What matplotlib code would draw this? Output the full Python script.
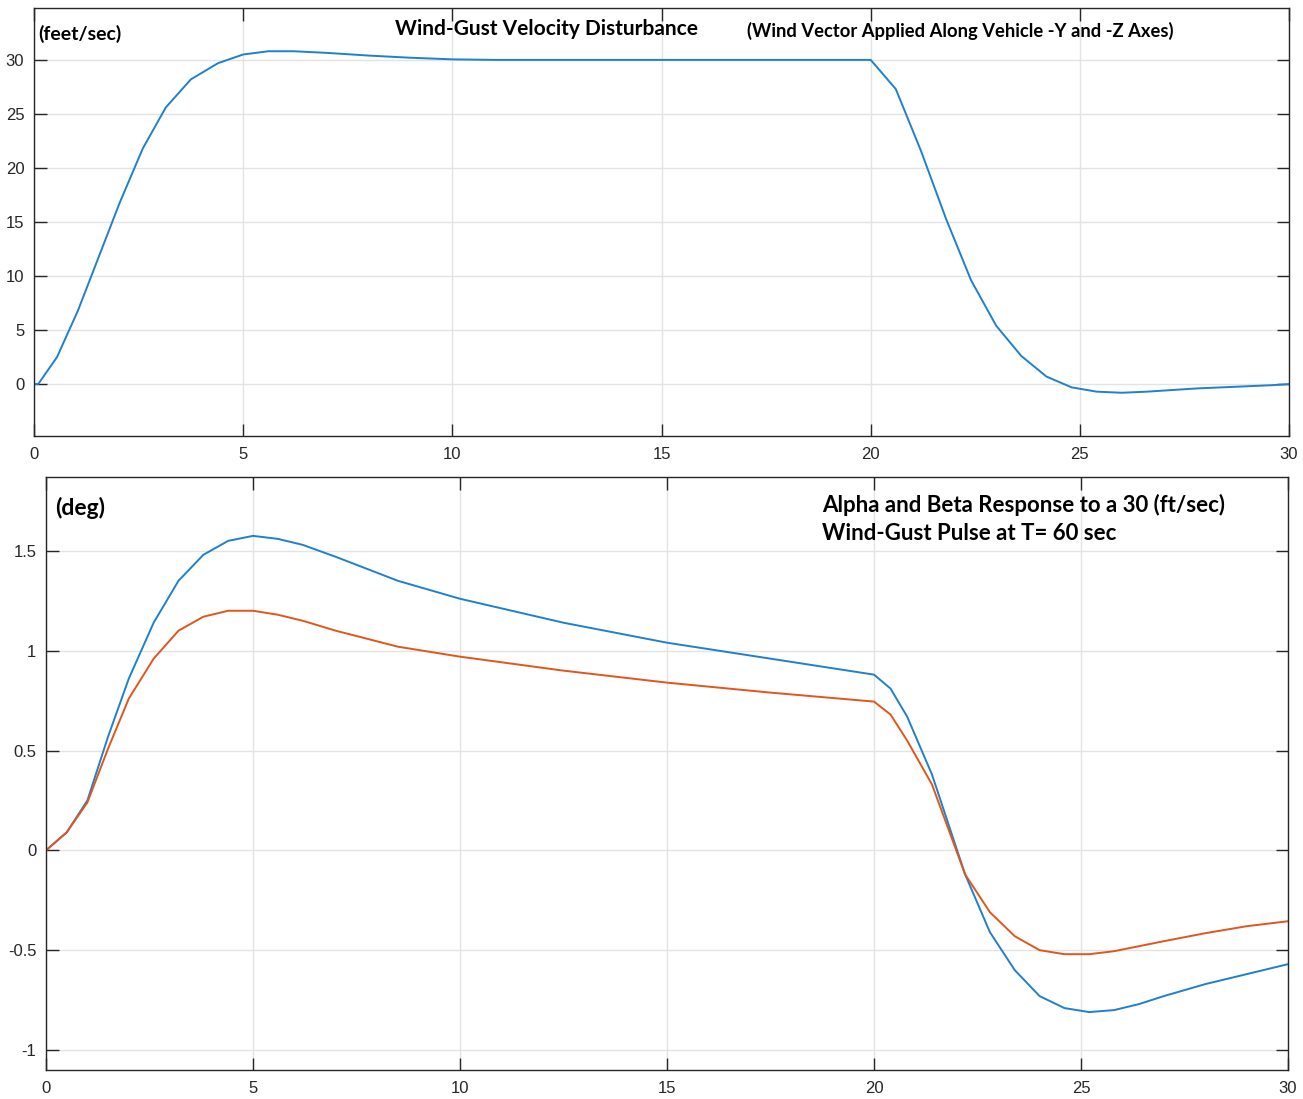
import matplotlib
matplotlib.use("Agg")
import matplotlib.pyplot as plt

# Wind-gust velocity profile (ft/sec)
gust_t = [0, 0.1, 0.55, 1.05, 1.55, 2.05, 2.6, 3.15, 3.75, 4.4, 5.0, 5.6, 6.2, 7, 8, 9, 10,
          11, 12, 13, 14, 15, 16, 17, 18, 19, 20, 20.6, 21.2, 21.8, 22.4, 23.0, 23.6,
          24.2, 24.8, 25.4, 26.0, 26.6, 27.2, 27.8, 28.4, 29.0, 29.6, 30]
gust_v = [0, 0, 2.5, 6.8, 11.8, 16.8, 21.8, 25.6, 28.2, 29.7, 30.5, 30.8, 30.8, 30.65, 30.4,
          30.2, 30.05, 30.0, 30.0, 30.0, 30.0, 30.0, 30.0, 30.0, 30.0, 30.0, 30.0, 27.3,
          21.6, 15.3, 9.6, 5.4, 2.6, 0.7, -0.3, -0.7, -0.8, -0.7, -0.55, -0.4, -0.3, -0.2,
          -0.1, 0.0]

# Alpha / beta response (deg)
resp_t = [0, 0.5, 1.0, 1.5, 2.0, 2.6, 3.2, 3.8, 4.4, 5.0, 5.6, 6.2, 7.0, 8.5, 10, 12.5, 15,
          17.5, 20, 20.4, 20.8, 21.4, 22.2, 22.8, 23.4, 24.0, 24.6, 25.2, 25.8, 26.4,
          27.0, 28.0, 29.0, 30.0]
alpha = [0, 0.09, 0.25, 0.57, 0.86, 1.14, 1.35, 1.48, 1.55, 1.575, 1.56, 1.53, 1.47, 1.35,
         1.26, 1.14, 1.04, 0.96, 0.88, 0.81, 0.67, 0.38, -0.12, -0.41, -0.60, -0.73, -0.79,
         -0.81, -0.80, -0.77, -0.73, -0.67, -0.62, -0.57]
beta = [0, 0.09, 0.24, 0.51, 0.76, 0.96, 1.10, 1.17, 1.20, 1.20, 1.18, 1.15, 1.10, 1.02,
        0.97, 0.90, 0.84, 0.79, 0.745, 0.68, 0.55, 0.33, -0.12, -0.31, -0.43, -0.50,
        -0.52, -0.52, -0.505, -0.48, -0.455, -0.415, -0.38, -0.355]

x_ticks = [0, 5, 10, 15, 20, 25, 30]
top_yticks = [0, 5, 10, 15, 20, 25, 30]
bot_yticks = [-1, -0.5, 0, 0.5, 1, 1.5]
bot_ylabels = ["-1", "-0.5", "0", "0.5", "1", "1.5"]

BLUE = "#1f80cf"
ORANGE = "#e0561c"
TXT = "#262626"
LABEL_FONT = ["Lato", "DejaVu Sans"]

plt.rcParams["font.family"] = ["Liberation Sans", "DejaVu Sans"]

fig = plt.figure(figsize=(13.03, 10.99), dpi=100)
ax1 = fig.add_axes([0.0261, 0.6033, 0.9632, 0.3894])
ax2 = fig.add_axes([0.0353, 0.0264, 0.9532, 0.5396])


def style(ax):
    ax.grid(True, color="#e3e3e3", linewidth=1.0)
    ax.set_axisbelow(True)
    ax.tick_params(direction="in", length=9, width=1.0, color=TXT,
                   top=True, right=True, labelsize=12, labelcolor=TXT, pad=8)
    for s in ax.spines.values():
        s.set_color(TXT)
        s.set_linewidth(1.0)
    ax.set_xticks(x_ticks)


ax1.plot(gust_t, gust_v, color=BLUE, linewidth=1.4)
ax1.set_xlim(0, 30)
ax1.set_ylim(-4.8, 34.8)
ax1.set_yticks(top_yticks)
style(ax1)
ax1.tick_params(axis="y", pad=7)
ax1.text(0.003, 0.94, "(feet/sec)", transform=ax1.transAxes, fontsize=14,
         fontweight="bold", family=LABEL_FONT, va="center", ha="left")
ax1.text(0.2875, 0.95, "Wind-Gust Velocity Disturbance", transform=ax1.transAxes,
         fontsize=15, fontweight="bold", family=LABEL_FONT, va="center", ha="left")
ax1.text(0.568, 0.946, "(Wind Vector Applied Along Vehicle -Y and -Z Axes)",
         transform=ax1.transAxes, fontsize=13.2, fontweight="bold", family=LABEL_FONT,
         va="center", ha="left")

ax2.plot(resp_t, alpha, color=BLUE, linewidth=1.4)
ax2.plot(resp_t, beta, color=ORANGE, linewidth=1.4)
ax2.set_xlim(0, 30)
ax2.set_ylim(-1.1, 1.87)
ax2.set_yticks(bot_yticks)
ax2.set_yticklabels(bot_ylabels)
style(ax2)
ax2.tick_params(axis="y", pad=7)
ax2.text(0.007, 0.948, "(deg)", transform=ax2.transAxes, fontsize=16.5,
         fontweight="bold", family=LABEL_FONT, va="center", ha="left")
ax2.text(0.625, 0.972, "Alpha and Beta Response to a 30 (ft/sec)\nWind-Gust Pulse at T= 60 sec",
         transform=ax2.transAxes, fontsize=16, fontweight="bold", family=LABEL_FONT,
         va="top", ha="left", linespacing=1.45)

fig.savefig("out.png", dpi=100, facecolor="white")
